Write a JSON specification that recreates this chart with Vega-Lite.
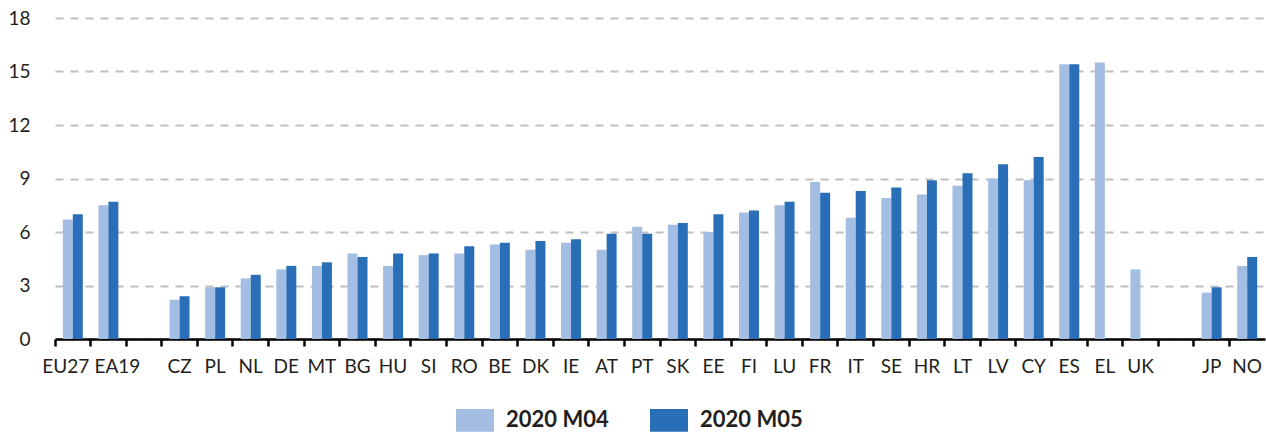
{
  "$schema": "https://vega.github.io/schema/vega-lite/v6.json",
  "width": 1210,
  "height": 321,
  "autosize": {"type": "none"},
  "padding": {"left": 55, "right": 1, "top": 18, "bottom": 93},
  "background": "white",
  "config": {
    "font": "Lato",
    "view": {"stroke": null},
    "axis": {"labelFont": "Lato", "labelFontSize": 19, "labelColor": "#231f20"}
  },
  "data": {
    "values": [
      {"c": "EU27", "p": "2020 M04", "v": 6.7}, {"c": "EU27", "p": "2020 M05", "v": 7.0},
      {"c": "EA19", "p": "2020 M04", "v": 7.5}, {"c": "EA19", "p": "2020 M05", "v": 7.7},
      {"c": "CZ", "p": "2020 M04", "v": 2.2}, {"c": "CZ", "p": "2020 M05", "v": 2.4},
      {"c": "PL", "p": "2020 M04", "v": 2.9}, {"c": "PL", "p": "2020 M05", "v": 2.9},
      {"c": "NL", "p": "2020 M04", "v": 3.4}, {"c": "NL", "p": "2020 M05", "v": 3.6},
      {"c": "DE", "p": "2020 M04", "v": 3.9}, {"c": "DE", "p": "2020 M05", "v": 4.1},
      {"c": "MT", "p": "2020 M04", "v": 4.1}, {"c": "MT", "p": "2020 M05", "v": 4.3},
      {"c": "BG", "p": "2020 M04", "v": 4.8}, {"c": "BG", "p": "2020 M05", "v": 4.6},
      {"c": "HU", "p": "2020 M04", "v": 4.1}, {"c": "HU", "p": "2020 M05", "v": 4.8},
      {"c": "SI", "p": "2020 M04", "v": 4.7}, {"c": "SI", "p": "2020 M05", "v": 4.8},
      {"c": "RO", "p": "2020 M04", "v": 4.8}, {"c": "RO", "p": "2020 M05", "v": 5.2},
      {"c": "BE", "p": "2020 M04", "v": 5.3}, {"c": "BE", "p": "2020 M05", "v": 5.4},
      {"c": "DK", "p": "2020 M04", "v": 5.0}, {"c": "DK", "p": "2020 M05", "v": 5.5},
      {"c": "IE", "p": "2020 M04", "v": 5.4}, {"c": "IE", "p": "2020 M05", "v": 5.6},
      {"c": "AT", "p": "2020 M04", "v": 5.0}, {"c": "AT", "p": "2020 M05", "v": 5.9},
      {"c": "PT", "p": "2020 M04", "v": 6.3}, {"c": "PT", "p": "2020 M05", "v": 5.9},
      {"c": "SK", "p": "2020 M04", "v": 6.4}, {"c": "SK", "p": "2020 M05", "v": 6.5},
      {"c": "EE", "p": "2020 M04", "v": 6.0}, {"c": "EE", "p": "2020 M05", "v": 7.0},
      {"c": "FI", "p": "2020 M04", "v": 7.1}, {"c": "FI", "p": "2020 M05", "v": 7.2},
      {"c": "LU", "p": "2020 M04", "v": 7.5}, {"c": "LU", "p": "2020 M05", "v": 7.7},
      {"c": "FR", "p": "2020 M04", "v": 8.8}, {"c": "FR", "p": "2020 M05", "v": 8.2},
      {"c": "IT", "p": "2020 M04", "v": 6.8}, {"c": "IT", "p": "2020 M05", "v": 8.3},
      {"c": "SE", "p": "2020 M04", "v": 7.9}, {"c": "SE", "p": "2020 M05", "v": 8.5},
      {"c": "HR", "p": "2020 M04", "v": 8.1}, {"c": "HR", "p": "2020 M05", "v": 8.9},
      {"c": "LT", "p": "2020 M04", "v": 8.6}, {"c": "LT", "p": "2020 M05", "v": 9.3},
      {"c": "LV", "p": "2020 M04", "v": 9.0}, {"c": "LV", "p": "2020 M05", "v": 9.8},
      {"c": "CY", "p": "2020 M04", "v": 8.9}, {"c": "CY", "p": "2020 M05", "v": 10.2},
      {"c": "ES", "p": "2020 M04", "v": 15.4}, {"c": "ES", "p": "2020 M05", "v": 15.4},
      {"c": "EL", "p": "2020 M04", "v": 15.5},
      {"c": "UK", "p": "2020 M04", "v": 3.9},
      {"c": "JP", "p": "2020 M04", "v": 2.6}, {"c": "JP", "p": "2020 M05", "v": 2.9},
      {"c": "NO", "p": "2020 M04", "v": 4.1}, {"c": "NO", "p": "2020 M05", "v": 4.6}
    ]
  },
  "mark": {"type": "bar"},
  "encoding": {
    "x": {
      "field": "c",
      "type": "nominal",
      "title": null,
      "scale": {
        "domain": ["EU27", "EA19", "_a", "CZ", "PL", "NL", "DE", "MT", "BG", "HU", "SI", "RO", "BE", "DK", "IE", "AT", "PT", "SK", "EE", "FI", "LU", "FR", "IT", "SE", "HR", "LT", "LV", "CY", "ES", "EL", "UK", "_b", "JP", "NO"],
        "paddingInner": 0,
        "paddingOuter": 0
      },
      "axis": {
        "labelAngle": 0,
        "labelExpr": "indexof(datum.value, '_') == 0 ? '' : datum.value",
        "bandPosition": 0,
        "labelOffset": {
          "condition": [
            {"test": "datum.value == 'EU27'", "value": -7},
            {"test": "datum.value == 'EA19'", "value": 9}
          ],
          "value": 0
        },
        "domainColor": "#000000",
        "domainWidth": 2.5,
        "tickColor": "#000000",
        "tickWidth": 2.5,
        "tickSize": 7,
        "labelPadding": 11,
        "grid": false
      }
    },
    "xOffset": {"field": "p", "type": "nominal", "scale": {"paddingInner": 0, "paddingOuter": 0.78}},
    "y": {
      "field": "v",
      "type": "quantitative",
      "title": null,
      "scale": {"domain": [0, 18], "nice": false},
      "axis": {
        "values": [0, 3, 6, 9, 12, 15, 18],
        "domain": false,
        "ticks": false,
        "labelPadding": 25,
        "gridColor": "#bfbfbf",
        "gridWidth": 2,
        "gridDash": [8, 7]
      }
    },
    "color": {
      "field": "p",
      "type": "nominal",
      "scale": {"domain": ["2020 M04", "2020 M05"], "range": ["#A4BDE2", "#2A6EB7"]},
      "legend": {
        "title": null,
        "orient": "none",
        "legendX": 401,
        "legendY": 383,
        "direction": "horizontal",
        "symbolType": "M-1,-0.6H1V0.6H-1Z",
        "symbolSize": 1444,
        "symbolStrokeWidth": 0,
        "labelFont": "Lato",
        "labelFontSize": 22,
        "labelFontWeight": "bold",
        "labelColor": "#231f20",
        "labelOffset": 12,
        "columnPadding": 41
      }
    }
  }
}
